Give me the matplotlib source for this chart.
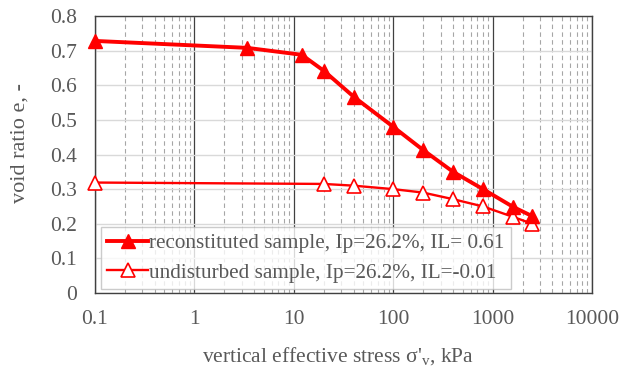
import matplotlib
matplotlib.use("Agg")
import matplotlib.pyplot as plt
from matplotlib.ticker import LogLocator, FixedLocator, NullFormatter

plt.rcParams['font.family'] = ['Liberation Serif', 'DejaVu Serif']
plt.rcParams['mathtext.fontset'] = 'custom'
plt.rcParams['mathtext.rm'] = 'Liberation Serif'

recon_stress = [0.1, 3.4, 12, 20, 40, 100, 200, 400, 800, 1600, 2500]
recon_e = [0.728, 0.708, 0.688, 0.642, 0.567, 0.480, 0.413, 0.350, 0.300, 0.249, 0.222]
undist_stress = [0.1, 20, 40, 100, 200, 400, 800, 1600, 2500]
undist_e = [0.319, 0.315, 0.310, 0.300, 0.290, 0.271, 0.250, 0.220, 0.200]

recon_label = "reconstituted sample, Ip=26.2%, IL= 0.61"
undist_label = "undisturbed sample, Ip=26.2%, IL=-0.01"
x_ticks = [0.1, 1, 10, 100, 1000, 10000]
x_ticklabels = ["0.1", "1", "10", "100", "1000", "10000"]
y_ticks = [0, 0.1, 0.2, 0.3, 0.4, 0.5, 0.6, 0.7, 0.8]
y_ticklabels = ["0", "0.1", "0.2", "0.3", "0.4", "0.5", "0.6", "0.7", "0.8"]

fig = plt.figure(figsize=(6.2, 3.71), dpi=100)
ax = fig.add_axes([95/620, 1-293/371, (592-95)/620, (293-16)/371])

ax.set_xscale('log')
ax.set_xlim(0.1, 10000)
ax.set_ylim(0, 0.8)

ax.xaxis.set_major_locator(FixedLocator(x_ticks))
ax.set_xticklabels(x_ticklabels)
ax.xaxis.set_minor_locator(LogLocator(base=10, subs=range(2, 10)))
ax.xaxis.set_minor_formatter(NullFormatter())
ax.set_yticks(y_ticks)
ax.set_yticklabels(y_ticklabels)

ax.grid(which='major', axis='x', color='#404040', linewidth=0.9, linestyle='-')
ax.grid(which='minor', axis='x', color='#a6a6a6', linewidth=0.8, linestyle=(0, (4, 3)))
ax.grid(which='major', axis='y', color='#d9d9d9', linewidth=1.0, linestyle='-')
ax.set_axisbelow(True)

ax.tick_params(which='both', length=0, labelsize=15.5, labelcolor='#595959')
ax.tick_params(axis='x', pad=12)
ax.tick_params(axis='y', pad=13)
for s in ax.spines.values():
    s.set_color('#404040')
    s.set_linewidth(1.0)

ax.plot(recon_stress, recon_e, color='#ff0000', linewidth=2.8, marker='^',
        markersize=10.5, markerfacecolor='#ff0000', markeredgecolor='#ff0000',
        label=recon_label, clip_on=False, zorder=4)
ax.plot(undist_stress, undist_e, color='#ff0000', linewidth=1.7, marker='^',
        markersize=10.5, markerfacecolor='white', markeredgecolor='#ff0000',
        markeredgewidth=1.2, label=undist_label, clip_on=False, zorder=3)

leg = ax.legend(loc='lower left', bbox_to_anchor=(101/620, 1-289/371), bbox_transform=fig.transFigure,
                fontsize=15.3, frameon=True, fancybox=False, handlelength=1.9,
                handletextpad=0.05, borderpad=0.3, labelspacing=0.45, borderaxespad=0)
leg.get_frame().set_edgecolor('#bfbfbf')
leg.get_frame().set_linewidth(1.0)
for t in leg.get_texts():
    t.set_color('#595959')

fig.text(20/620, 1-143/371, "void ratio e, -", rotation=90, ha='center', va='center',
         fontsize=16, color='#595959')
fig.text(338/620, 1-357/371, r"vertical effective stress σ'$_\mathregular{v}$, kPa",
         ha='center', va='center', fontsize=15.5, color='#595959')

fig.savefig("out.png", dpi=100)
